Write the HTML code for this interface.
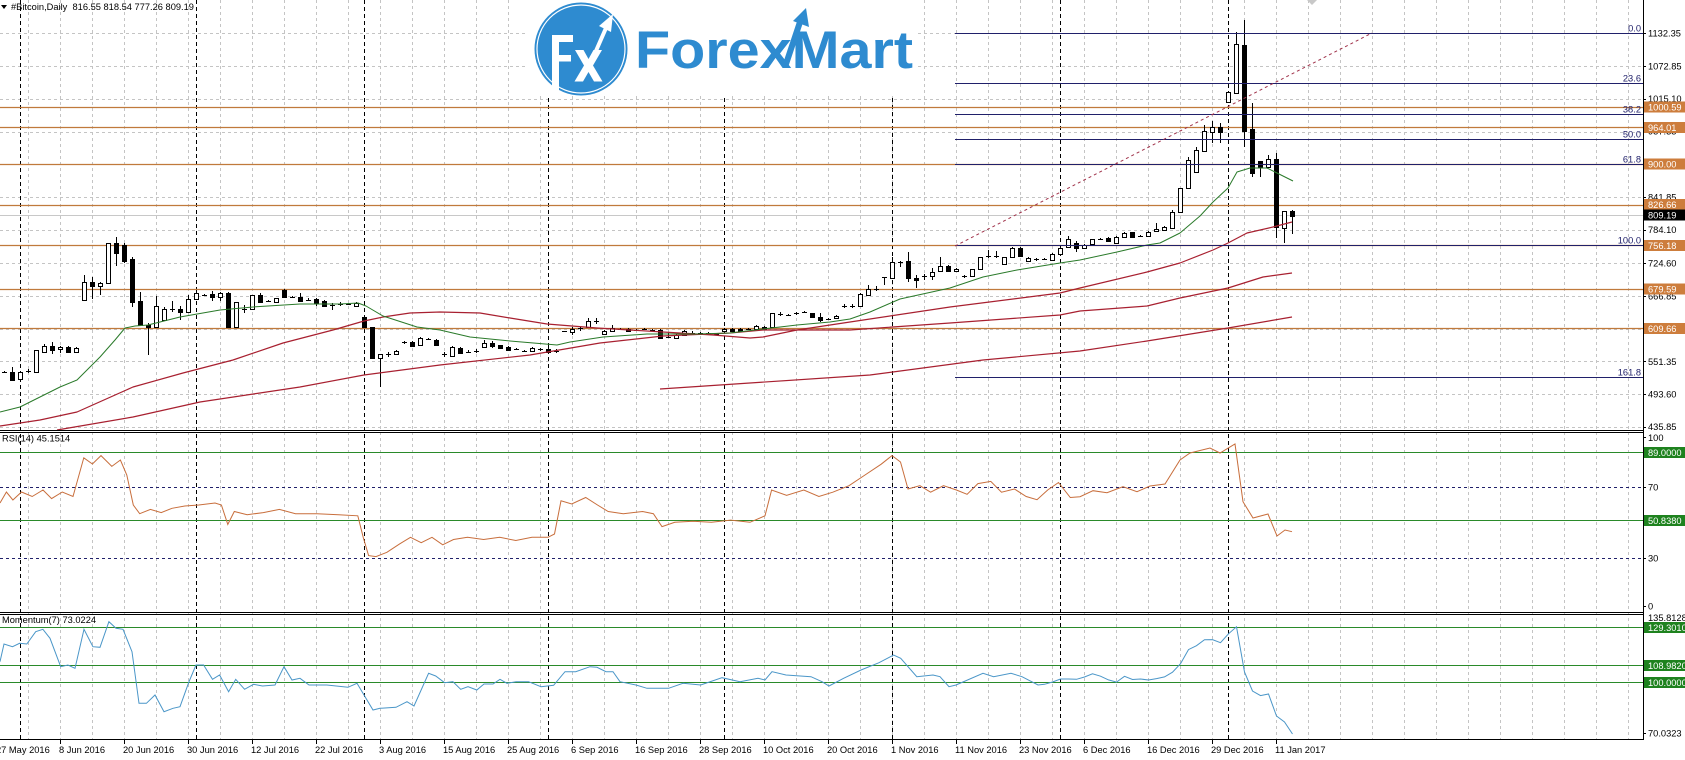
<!DOCTYPE html>
<html><head><meta charset="utf-8"><style>
html,body{margin:0;padding:0;background:#fff;}
svg{display:block;font-family:"Liberation Sans",sans-serif;font-size:9.3px;}
</style></head><body>
<svg width="1685" height="760" viewBox="0 0 1685 760" xmlns="http://www.w3.org/2000/svg">
<rect width="1685" height="760" fill="#fff"/>
<!-- vertical grid -->
<path fill="none" stroke="#c4c4c4" stroke-width="1" stroke-dasharray="3,3" d="M28.5 0V740M60.5 0V740M92.5 0V740M124.5 0V740M156.5 0V740M188.5 0V740M220.5 0V740M252.5 0V740M284.5 0V740M316.5 0V740M348.5 0V740M380.5 0V740M412.5 0V740M444.5 0V740M476.5 0V740M508.5 0V740M540.5 0V740M572.5 0V740M604.5 0V740M636.5 0V740M668.5 0V740M700.5 0V740M732.5 0V740M764.5 0V740M796.5 0V740M828.5 0V740M860.5 0V740M892.5 0V740M924.5 0V740M956.5 0V740M988.5 0V740M1020.5 0V740M1052.5 0V740M1084.5 0V740M1116.5 0V740M1148.5 0V740M1180.5 0V740M1212.5 0V740M1244.5 0V740M1276.5 0V740M1308.5 0V740M1340.5 0V740M1372.5 0V740M1404.5 0V740M1436.5 0V740M1468.5 0V740M1500.5 0V740M1532.5 0V740M1564.5 0V740M1596.5 0V740M1628.5 0V740"/>
<!-- horizontal grid main -->
<path fill="none" stroke="#c4c4c4" stroke-width="1" stroke-dasharray="3,3" d="M0 33.5H1643M0 66.5H1643M0 99.5H1643M0 132.5H1643M0 164.5H1643M0 197.5H1643M0 230.5H1643M0 263.5H1643M0 296.5H1643M0 329.5H1643M0 361.5H1643M0 394.5H1643M0 427.5H1643"/>
<!-- period separators -->
<path fill="none" stroke="#000" stroke-width="1" stroke-dasharray="4,3" d="M20.5 0V740M196.5 0V740M364.5 0V740M548.5 0V740M724.5 0V740M892.5 0V740M1060.5 0V740M1228.5 0V740"/>
<!-- logo background -->
<rect x="526" y="0" width="392" height="95" fill="#fff"/>
<!-- bid line -->
<path d="M0 215.5H1643" stroke="#c8c8c8" stroke-width="1"/>
<!-- orange level lines -->
<path fill="none" stroke="#c07a3c" stroke-width="1.2" d="M0 107.5H1643M0 127.5H1643M0 164.5H1643M0 205.5H1643M0 245.5H1643M0 289.5H1643M0 328.5H1643"/>
<!-- candles wicks -->
<path fill="none" stroke="#000" stroke-width="1" d="M4.5 371V373M12.5 367V381M20.5 371V380M28.5 369V373M36.5 350V373M44.5 344V353M52.5 342V354M60.5 346V353M68.5 346V353M76.5 347V353M84.5 275V300M92.5 277V299M100.5 282V295M108.5 243V283M116.5 237V266M124.5 243V263M132.5 257V307M140.5 292V325M148.5 323V355M156.5 296V328M164.5 307V321M172.5 301V312M180.5 306V320M188.5 295V313M196.5 290V300M204.5 294V296M212.5 291V301M220.5 292V301M228.5 292V328M236.5 302V328M244.5 305V313M252.5 295V310M260.5 293V303M268.5 300V302M276.5 298V303M284.5 289V297M292.5 296V298M300.5 293V302M308.5 298V301M316.5 298V306M324.5 300V307M332.5 303V310M340.5 302V306M348.5 303V305M356.5 302V306M364.5 316V327M372.5 327V358M380.5 354V387M388.5 352V357M396.5 350V355M404.5 341V344M412.5 341V347M420.5 337V346M428.5 338V340M436.5 339V345M444.5 352V357M452.5 346V357M460.5 347V353M468.5 350V353M476.5 349V353M484.5 340V348M492.5 341V348M500.5 345V348M508.5 346V351M516.5 348V350M524.5 350V351M532.5 347V351M540.5 348V351M548.5 347V353M556.5 349V353M572.5 327V335M580.5 327V331M588.5 318V327M596.5 318V324M604.5 330V335M612.5 325V332M620.5 328V330M628.5 328V331M636.5 329V331M644.5 328V330M652.5 329V331M660.5 329V338M668.5 333V338M676.5 334V338M684.5 330V335M692.5 331V334M700.5 332V334M708.5 332V335M716.5 333V335M724.5 328V331M732.5 328V331M740.5 328V332M748.5 328V330M756.5 325V329M764.5 326V329M772.5 313V327M780.5 312V316M788.5 314V315M796.5 312V315M804.5 311V313M812.5 313V317M820.5 313V322M828.5 318V320M836.5 315V318M844.5 304V308M852.5 304V308M860.5 293V306M868.5 285V296M876.5 286V291M884.5 277V285M892.5 257V279M900.5 261V267M908.5 252V282M916.5 275V288M924.5 274V280M932.5 268V280M940.5 257V272M948.5 265V271M956.5 268V271M964.5 275V278M972.5 269V276M980.5 257V269M988.5 250V258M996.5 251V258M1004.5 257V264M1012.5 247V257M1020.5 247V256M1028.5 257V261M1036.5 258V261M1044.5 258V260M1052.5 253V260M1060.5 245V254M1068.5 236V248M1076.5 241V252M1084.5 244V248M1092.5 239V245M1100.5 238V240M1108.5 237V241M1116.5 236V243M1124.5 232V237M1132.5 232V237M1140.5 235V237M1148.5 231V236M1156.5 223V231M1164.5 226V231M1172.5 210V228M1180.5 188V212M1188.5 157V188M1196.5 147V172M1204.5 125V151M1212.5 121V143M1220.5 123V143M1228.5 92V102M1236.5 32V93M1244.5 20V147M1252.5 103V177M1260.5 161V177M1268.5 155V168M1276.5 153V238M1284.5 211V243M1292.5 210V234"/>
<!-- white bodies -->
<path fill="#fff" stroke="#000" stroke-width="1" d="M18.5 372.5h4v7h-4zM34.5 350.5h4v22h-4zM42.5 346.5h4v6h-4zM58.5 347.5h4v2h-4zM74.5 348.5h4v4h-4zM82.5 282.5h4v18h-4zM98.5 283.5h4v3h-4zM106.5 243.5h4v40h-4zM154.5 306.5h4v21h-4zM162.5 309.5h4v11h-4zM186.5 299.5h4v13h-4zM194.5 293.5h4v6h-4zM218.5 293.5h4v4h-4zM234.5 302.5h4v25h-4zM250.5 295.5h4v14h-4zM274.5 298.5h4v4h-4zM354.5 303.5h4v3h-4zM378.5 354.5h4v4h-4zM394.5 351.5h4v3h-4zM418.5 338.5h4v7h-4zM450.5 347.5h4v9h-4zM482.5 343.5h4v4h-4zM530.5 348.5h4v3h-4zM570.5 329.5h4v3h-4zM586.5 321.5h4v6h-4zM602.5 331.5h4v3h-4zM610.5 328.5h4v3h-4zM674.5 335.5h4v3h-4zM682.5 331.5h4v4h-4zM722.5 329.5h4v2h-4zM754.5 326.5h4v3h-4zM770.5 313.5h4v14h-4zM834.5 316.5h4v2h-4zM858.5 294.5h4v12h-4zM866.5 289.5h4v6h-4zM890.5 262.5h4v16h-4zM930.5 272.5h4v4h-4zM938.5 266.5h4v5h-4zM954.5 269.5h4v2h-4zM970.5 269.5h4v7h-4zM978.5 257.5h4v12h-4zM1002.5 257.5h4v7h-4zM1010.5 248.5h4v9h-4zM1026.5 258.5h4v3h-4zM1050.5 254.5h4v6h-4zM1058.5 248.5h4v6h-4zM1066.5 239.5h4v8h-4zM1082.5 245.5h4v3h-4zM1090.5 239.5h4v5h-4zM1114.5 237.5h4v6h-4zM1122.5 233.5h4v4h-4zM1146.5 232.5h4v4h-4zM1154.5 229.5h4v2h-4zM1162.5 227.5h4v3h-4zM1170.5 212.5h4v16h-4zM1178.5 188.5h4v24h-4zM1186.5 160.5h4v28h-4zM1194.5 150.5h4v22h-4zM1202.5 131.5h4v20h-4zM1210.5 127.5h4v5h-4zM1226.5 92.5h4v10h-4zM1234.5 44.5h4v49h-4zM1266.5 159.5h4v8h-4zM1282.5 211.5h4v17h-4z"/>
<!-- black bodies -->
<path fill="#000" d="M10 372h5v9h-5zM50 346h5v5h-5zM66 347h5v6h-5zM90 282h5v5h-5zM114 243h5v11h-5zM122 245h5v17h-5zM130 259h5v44h-5zM138 301h5v25h-5zM146 325h5v3h-5zM178 309h5v4h-5zM210 294h5v4h-5zM226 293h5v35h-5zM258 295h5v8h-5zM282 290h5v8h-5zM298 297h5v5h-5zM314 299h5v5h-5zM322 301h5v6h-5zM362 317h5v11h-5zM370 327h5v32h-5zM410 342h5v5h-5zM434 340h5v6h-5zM458 348h5v6h-5zM490 343h5v4h-5zM498 345h5v4h-5zM506 347h5v4h-5zM546 349h5v4h-5zM626 329h5v3h-5zM658 330h5v9h-5zM706 333h5v2h-5zM714 333h5v2h-5zM730 329h5v3h-5zM738 329h5v3h-5zM762 327h5v3h-5zM810 313h5v5h-5zM818 317h5v4h-5zM906 261h5v18h-5zM914 278h5v3h-5zM946 266h5v6h-5zM1018 248h5v9h-5zM1074 243h5v6h-5zM1106 238h5v4h-5zM1130 232h5v6h-5zM1218 127h5v6h-5zM1242 45h5v87h-5zM1250 129h5v45h-5zM1258 161h5v7h-5zM1274 159h5v69h-5zM1290 211h5v6h-5z"/>
<!-- dojis -->
<path fill="none" stroke="#000" stroke-width="1" d="M2 372.5h5M26 371.5h5M170 309.5h5M202 295.5h5M242 309.5h5M266 301.5h5M290 297.5h5M306 300.5h5M330 305.5h5M338 304.5h5M346 304.5h5M386 354.5h5M402 342.5h5M426 339.5h5M442 354.5h5M466 352.5h5M474 351.5h5M514 349.5h5M522 351.5h5M538 349.5h5M554 351.5h5M562 331.5h5M578 328.5h5M594 321.5h5M618 329.5h5M634 330.5h5M642 329.5h5M650 330.5h5M666 337.5h5M690 333.5h5M698 333.5h5M746 329.5h5M778 314.5h5M786 315.5h5M794 313.5h5M802 312.5h5M826 319.5h5M842 306.5h5M850 306.5h5M874 289.5h5M882 277.5h5M898 262.5h5M922 276.5h5M962 276.5h5M986 256.5h5M994 256.5h5M1034 259.5h5M1042 259.5h5M1098 239.5h5M1138 236.5h5"/>
<!-- moving averages -->
<g fill="none" stroke-width="1.2" stroke-linejoin="round">
<polyline stroke="#a82030" points="0,426 40,420 77,412 133,387 183,373 233,360 283,343 333,330 364,321 383,317 410,313 440,312 480,313 510,318 547,324 597,328 663,332 713,335 750,338 763,337 797,330 850,322 950,307 1060,293 1080,288 1147,272 1180,263 1213,250 1228,243 1247,233 1273,227 1292,222"/>
<polyline stroke="#a82030" points="57,430 133,417 200,402 300,387 364,375 440,365 530,355 600,343 663,336 730,333 763,330 850,330 950,323 1060,315 1080,311 1147,306 1180,298 1228,288 1263,277 1292,273"/>
<polyline stroke="#a82030" points="660,389 870,375 983,360 1080,351 1147,341 1228,328 1292,317"/>
<polyline stroke="#2a7a2a" stroke-width="1" points="0,412 20,407 40,397 60,387 77,380 100,357 115,340 125,328 135,326 148,325 180,317 220,310 253,307 300,304 340,304 358,303 366,306 383,316 417,327 440,330 470,337 510,341 557,345 570,342 603,337 647,334 697,334 730,333 763,329 797,325 830,322 850,319 870,312 893,302 900,299 950,288 983,277 1017,270 1060,263 1080,260 1117,252 1147,245 1160,243 1180,233 1200,216 1213,202 1228,188 1237,172 1250,168 1267,168 1277,173 1293,181"/>
</g>
<!-- fibonacci -->
<path fill="none" stroke="#20206a" stroke-width="1" d="M955 33.5H1643M955 83.5H1643M955 114.5H1643M955 139.5H1643M955 164.5H1643M955 245.5H1643M955 377.5H1643"/>
<path d="M955 246L1372 33" stroke="#a0324a" stroke-width="1" stroke-dasharray="3,3" fill="none"/>
<g fill="#20206a" text-anchor="end">
<text x="1641" y="31.5">0.0</text>
<text x="1641" y="81.5">23.6</text>
<text x="1641" y="112.5">38.2</text>
<text x="1641" y="137.5">50.0</text>
<text x="1641" y="162.5">61.8</text>
<text x="1641" y="243.5">100.0</text>
<text x="1641" y="375.5">161.8</text>
</g>
<polygon points="1307,0 1317,0 1312,5" fill="#c8c8c8"/>
<!-- RSI levels -->
<path fill="none" stroke="#2a8a2a" stroke-width="1" d="M0 452.5H1643M0 520.5H1643M0 627.5H1643M0 665.5H1643M0 682.5H1643"/>
<path fill="none" stroke="#20206a" stroke-width="1" stroke-dasharray="3,3" d="M0 487.5H1643M0 558.5H1643"/>
<!-- RSI line -->
<polyline fill="none" stroke="#c86e3c" stroke-width="1" points="0,503 6.4,492 12.9,500 21.5,492 32.2,496.5 43,490 51.6,498.6 62.3,492 73,496.5 83.8,457.8 92.4,464 101,455.6 111.8,466.4 120.4,460 126.8,475 133.3,505 139.7,513.7 150.4,509.4 161.2,512.6 172,508.3 184.8,506 198.8,505 215,503 221.4,505 227.8,524.4 234.3,511.5 247.2,514.7 263.3,512.6 279.4,509.4 295.5,513.7 317,513.7 338.5,514.7 357.8,515.8 363.2,537.3 368.6,555.6 376,556.6 386.9,552.3 399.8,543.8 410.5,537.3 421.2,542.7 432,537.3 442.7,544.8 453.5,539.5 467.5,537.3 483.6,539.5 499.7,537.3 515.8,540.5 532,537.3 548,537.3 554.5,534 561,500.8 571.7,504 585.7,497.5 597.5,505 608.2,511.5 623.3,513.7 642.6,511.5 653.4,513.7 662,526.6 674.8,522.3 693,521.2 711.4,522.3 730.7,520.1 750,522.3 765,515.8 771.6,490 786.6,495.4 803.8,490 818.9,496.5 832.8,492.2 849,485.7 865,475 881.2,464.2 892,455.6 900.5,462 908,489 919.9,485.7 930.6,492.2 943.5,485.7 956.4,490 967.1,494.3 977.9,483.6 990.8,481.4 1001.5,492.2 1014.4,489 1026.2,496.5 1037,499.7 1047.7,490 1058.5,482.5 1070.3,497.5 1080,496.7 1093,490.7 1107,492.7 1123,486.7 1137,491.7 1150,486 1165,484 1180,460 1190,453 1210,448 1220,453 1235,444 1243,501.7 1253,518 1268,514 1277,536 1285,530 1292,531.7"/>
<!-- Momentum line -->
<polyline fill="none" stroke="#4a96c8" stroke-width="1" points="0,661.7 4,644 12.5,646.7 19.6,643.3 26.8,644 35.7,631.7 42.9,629.3 50,638.3 60.7,666.7 67.9,665 75,668.3 84,629.3 92.9,646.7 100,647.3 108.9,621.7 116,628.3 123,629.3 132,651.7 139,703.3 146.4,703.3 155,695 164,711.7 173,708.3 180,706.7 189,681.7 196,665 203.6,665 212.5,679.3 219.6,675 228.6,691.7 235.7,679.3 244.6,689.3 253.6,684.3 262.5,686 275,685 284,666.7 292,680 300,678.3 309,685 326.8,685 348,687.3 357,683.3 364,695 373,710 380,708.3 396,707.3 407,701.7 414,706 428.6,673.3 435.7,676 444.6,682.7 452.9,681.7 460.7,689.3 468,686.7 476.8,690 484,684 493,684 500,679.3 507,683.3 516,681.7 528.6,681.7 541,686.7 553.6,685.3 565,671.7 575.7,671.7 590,666.7 597,667.3 606,671.7 613,671.7 620,681.7 636,685 647,688.3 668.6,688.3 683,683.3 700.7,685 722,677.7 740,681.7 758,678.3 765,680 772,671.7 786,675 811,676.7 822,681.7 829,686 843.6,678.3 861,670 879,662.7 893.6,655 900.7,658.3 916.8,676.7 933,675 940,676.7 949,686.7 956,685 983,673.3 993.6,676.7 1011,673.3 1022,676.7 1038,685 1044.5,684.3 1052.5,682 1060.5,679 1068.5,679 1076.5,679.3 1084.5,677 1092.5,673.8 1100.5,676.2 1108.5,679.9 1116.5,682.1 1124.5,676.3 1132.5,679.5 1140.5,679 1148.5,680 1156.5,678.6 1164.5,676.9 1172.5,672.2 1180.5,663.7 1188.5,649.6 1196.5,645.7 1204.5,639.7 1212.5,639.6 1220.5,642.7 1228.5,633.8 1236.5,626.8 1244.5,672 1252.5,691 1260.5,695.6 1268.5,694 1276.5,716 1284.5,722 1292.5,734"/>
<!-- panel borders -->
<path fill="none" stroke="#000" stroke-width="1" d="M0 430.5H1644M0 432.5H1644M0 612.5H1644M0 614.5H1644M0 739.5H1644M1643.5 0V740"/>
<!-- axis ticks -->
<path fill="none" stroke="#000" stroke-width="1" d="M1643 33.5h3M1643 66.5h3M1643 99.5h3M1643 132.5h3M1643 197.5h3M1643 230.5h3M1643 263.5h3M1643 296.5h3M1643 361.5h3M1643 394.5h3M1643 427.5h3M1643 437.5h3M1643 487.5h3M1643 558.5h3M1643 606.5h3M1643 733.5h3M60.5 740v4M124.5 740v4M188.5 740v4M252.5 740v4M316.5 740v4M380.5 740v4M444.5 740v4M508.5 740v4M572.5 740v4M636.5 740v4M700.5 740v4M764.5 740v4M828.5 740v4M892.5 740v4M956.5 740v4M1020.5 740v4M1084.5 740v4M1148.5 740v4M1212.5 740v4M1276.5 740v4"/>
<!-- right axis labels -->
<g fill="#000">
<text x="1648" y="36.5">1132.35</text>
<text x="1648" y="69.5">1072.85</text>
<text x="1648" y="102">1015.10</text>
<text x="1648" y="134.5">957.35</text>
<text x="1648" y="168">899.60</text>
<text x="1648" y="200.5">841.85</text>
<text x="1648" y="233">784.10</text>
<text x="1648" y="266.5">724.60</text>
<text x="1648" y="299.5">666.85</text>
<text x="1648" y="332.5">609.10</text>
<text x="1648" y="365">551.35</text>
<text x="1648" y="397.5">493.60</text>
<text x="1648" y="430">435.85</text>
<text x="1648" y="441">100</text>
<text x="1648" y="490.5">70</text>
<text x="1648" y="561.5">30</text>
<text x="1648" y="609.5">0</text>
<text x="1648" y="621">135.8128</text>
<text x="1648" y="736.5">70.0323</text>
</g>
<!-- colored boxes -->
<g fill="#cd7d3c">
<rect x="1644" y="101.5" width="41" height="11"/>
<rect x="1644" y="122" width="41" height="11"/>
<rect x="1644" y="158.5" width="41" height="11"/>
<rect x="1644" y="199" width="41" height="11"/>
<rect x="1644" y="240" width="41" height="11"/>
<rect x="1644" y="283.5" width="41" height="11"/>
<rect x="1644" y="323" width="41" height="11"/>
</g>
<rect x="1644" y="209.5" width="41" height="11" fill="#000"/>
<g fill="#1e821e">
<rect x="1644" y="447" width="41" height="11"/>
<rect x="1644" y="515" width="41" height="11"/>
<rect x="1644" y="622" width="41" height="11"/>
<rect x="1644" y="660" width="41" height="11"/>
<rect x="1644" y="677" width="41" height="11"/>
</g>
<g fill="#fff">
<text x="1648" y="110.5">1000.59</text>
<text x="1648" y="131">964.01</text>
<text x="1648" y="167.5">900.00</text>
<text x="1648" y="208">826.66</text>
<text x="1648" y="218.5">809.19</text>
<text x="1648" y="249">756.18</text>
<text x="1648" y="292.5">679.59</text>
<text x="1648" y="332">609.66</text>
<text x="1648" y="456">89.0000</text>
<text x="1648" y="524">50.8380</text>
<text x="1648" y="631">129.3010</text>
<text x="1648" y="669">108.9820</text>
<text x="1648" y="686">100.0000</text>
</g>
<!-- titles -->
<polygon points="1,5 7,5 4,9" fill="#000"/>
<text x="11" y="10" fill="#000" xml:space="preserve">#Bitcoin,Daily  816.55 818.54 777.26 809.19</text>
<text x="2" y="441.5" fill="#000">RSI(14) 45.1514</text>
<text x="2" y="623" fill="#000">Momentum(7) 73.0224</text>
<!-- date labels -->
<g fill="#000">
<text x="-4" y="753">27 May 2016</text>
<text x="59" y="753">8 Jun 2016</text>
<text x="123" y="753">20 Jun 2016</text>
<text x="187" y="753">30 Jun 2016</text>
<text x="251" y="753">12 Jul 2016</text>
<text x="315" y="753">22 Jul 2016</text>
<text x="379" y="753">3 Aug 2016</text>
<text x="443" y="753">15 Aug 2016</text>
<text x="507" y="753">25 Aug 2016</text>
<text x="571" y="753">6 Sep 2016</text>
<text x="635" y="753">16 Sep 2016</text>
<text x="699" y="753">28 Sep 2016</text>
<text x="763" y="753">10 Oct 2016</text>
<text x="827" y="753">20 Oct 2016</text>
<text x="891" y="753">1 Nov 2016</text>
<text x="955" y="753">11 Nov 2016</text>
<text x="1019" y="753">23 Nov 2016</text>
<text x="1083" y="753">6 Dec 2016</text>
<text x="1147" y="753">16 Dec 2016</text>
<text x="1211" y="753">29 Dec 2016</text>
<text x="1275" y="753">11 Jan 2017</text>
</g>
<!-- logo -->
<circle cx="581" cy="49" r="46.5" fill="#2e8bd0"/>
<circle cx="581" cy="49" r="44" fill="none" stroke="#fff" stroke-width="1.2"/>
<path d="M552 35h21v7h-14v13h12v6.5h-12V93h-7z" fill="#fff"/>
<path d="M575 50h8.5l5 9 5-9h8.5l-9 15.5 9.5 16h-8.5l-5.5-9.5-5.5 9.5h-8.5l9.5-16z" fill="#fff"/>
<path d="M592 60L606 28" stroke="#fff" stroke-width="4" fill="none"/>
<polygon points="613,14 611,32 599,26" fill="#fff"/>
<text x="635" y="68" font-size="53" font-weight="bold" fill="#2e8bd0" textLength="278" lengthAdjust="spacingAndGlyphs" style="font-family:'Liberation Sans',sans-serif">ForexMart</text>
<path d="M786 64L800 22" stroke="#2e8bd0" stroke-width="6" fill="none"/>
<polygon points="806,8 809,27 793,21" fill="#2e8bd0"/>
</svg>
</body></html>
